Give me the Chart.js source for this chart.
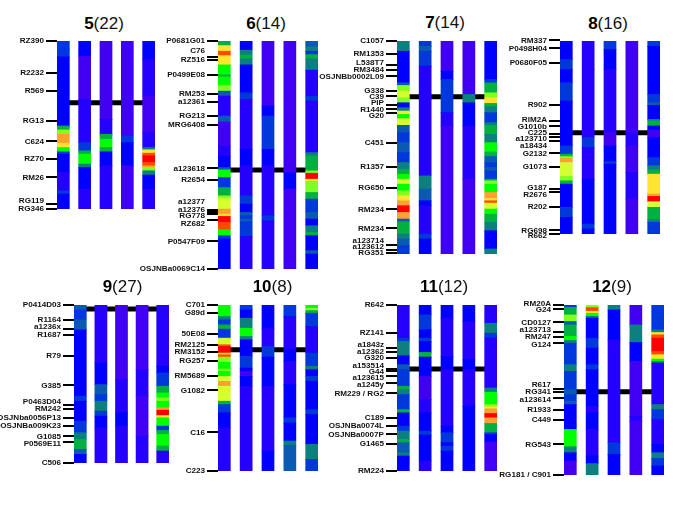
<!DOCTYPE html>
<html>
<head>
<meta charset="utf-8">
<title>QTL heat map per chromosome</title>
<script src="https://cdn.jsdelivr.net/npm/chart.js@4"></script>
<style>
    html, body { margin: 0; padding: 0; background: #fff; }
    #page { position: relative; width: 685px; height: 513px; overflow: hidden; }
    #page canvas { position: absolute; }
    .titre { position: absolute; transform: translateX(-50%); font: 17px "Liberation Sans", Arial, sans-serif; line-height: 20px; color: #111; white-space: nowrap; }
    .titre b { color: #000; }
</style>
</head>
<body>
<div id="page"></div>
<script>
// Chromosomes and number of QTL shown in each title
const chromosomes = [5, 6, 7, 8, 9, 10, 11, 12];
const qtlCounts = [22, 14, 14, 16, 27, 8, 12, 9];

// Position of the black band on each map
const bandPositions = [310, 512, 292, 400, 117, 240, 298, 366];

// Map extent of each chromosome (start, end)
const mapStarts = [124, 124, 124, 124, 105, 105, 105, 105];
const mapEnds = [630, 810, 765, 705, 581, 605, 605, 617];

// Markers: name, position on the map, position of the printed name
const names5 = ['RZ390', 'R2232', 'R569', 'RG13', 'C624', 'RZ70', 'RM26', 'RG119', 'RG346'];
const markers5 = [124, 220, 274, 365, 426, 478, 535, 614, 629];
const nameAt5 = [122, 219, 274, 364, 426, 478, 535, 604, 628];

const names6 = ['P0681G01', 'C76', 'RZ516', 'P0499E08', 'RM253', 'a12361', 'RG213', 'MRG6408', 'a123618', 'R2654', 'a12377', 'a12376', 'RG778', 'RZ682', 'P0547F09', 'OSJNBa0069C14'];
const markers6 = [123, 172, 182, 225, 283, 308, 349, 377, 507, 542, 632, 638, 646, 664, 727, 809];
const nameAt6 = [122, 154, 179, 225, 283, 308, 349, 377, 507, 542, 609, 631, 650, 673, 727, 808];

const names7 = ['C1057', 'RM1353', 'L538T7', 'RM3484', 'OSJNBb0002L09', 'G338', 'C39', 'PIP', 'R1440', 'G20', 'C451', 'R1357', 'RG650', 'RM234', 'RM234', 'a123714', 'a123612', 'RG351'];
const markers7 = [123, 162, 195, 211, 229, 274, 291, 316, 330, 341, 430, 503, 566, 630, 687, 737, 752, 762];
const nameAt7 = [122, 162, 191, 211, 232, 273, 291, 311, 331, 348, 430, 503, 566, 631, 688, 725, 743, 761];

const names8 = ['RM337', 'P0498H04', 'P0680F05', 'R902', 'RIM2A', 'G1010b', 'C225', 'a123710', 'a18434', 'G2132', 'G1073', 'G187', 'R2676', 'R202', 'RG698', 'R662'];
const markers8 = [122, 146, 190, 317, 365, 381, 403, 413, 424, 462, 504, 569, 578, 623, 694, 705];
const nameAt8 = [122, 146, 190, 317, 360, 381, 400, 419, 438, 462, 504, 566, 587, 623, 694, 711];

const names9 = ['P0414D03', 'R1164', 'a1236x', 'R1687', 'R79', 'G385', 'P0463D04', 'RM242', 'OSJNba0056P13', 'OSJNBa009K23', 'G1085', 'P0569E11', 'C506'];
const markers9 = [105, 149, 177, 194, 258, 347, 406, 419, 444, 470, 501, 517, 581];
const nameAt9 = [103, 148, 172, 194, 258, 347, 398, 419, 444, 470, 501, 524, 581];

const names10 = ['C701', 'G89d', '50E08', 'RM2125', 'RM3152', 'RG257', 'RM5689', 'G1082', 'C16', 'C223'];
const markers10 = [105, 129, 192, 226, 246, 274, 318, 362, 489, 605];
const nameAt10 = [105, 129, 192, 226, 246, 274, 318, 362, 489, 605];

const names11 = ['R642', 'RZ141', 'a1843z', 'a12362', 'G320', 'a153514', 'G44', 'a123615', 'a1245y', 'RM229 / RG2', 'C189', 'OSJNBa0074L', 'OSJNBa0007P', 'G1465', 'RM224'];
const markers11 = [105, 190, 234, 246, 265, 298, 304, 318, 340, 371, 446, 469, 495, 524, 605];
const nameAt11 = [105, 190, 226, 246, 265, 287, 305, 325, 344, 371, 446, 469, 495, 524, 605];

const names12 = ['RM20A', 'G24', 'CD0127', 'a123713', 'RM247', 'G124', 'R617', 'RG341', 'a123614', 'R1933', 'C449', 'RG543', 'RG181 / C901'];
const markers12 = [105, 118, 157, 185, 201, 220, 358, 367, 385, 420, 452, 525, 617];
const nameAt12 = [101, 120, 157, 181, 201, 224, 346, 367, 389, 420, 452, 525, 617];

// Heat levels per track, as [end of segment, level] read from top to bottom
const heat5 = [
    [[148, 3], [172, 3], [380, 2], [392, 6], [405, 8], [415, 11], [432, 11], [445, 10], [458, 7], [465, 3], [520, 2], [575, 1], [585, 3], [630, 2]],
    [[170, 2], [300, 0], [430, 1], [455, 3], [465, 6], [495, 7], [505, 5], [570, 2], [630, 1]],
    [[360, 0], [405, 1], [420, 6], [445, 7], [458, 6], [500, 2], [630, 1]],
    [[410, 0], [430, 3], [500, 2], [630, 0]],
    [[180, 2], [290, 1], [400, 0], [445, 1], [452, 5], [462, 10], [470, 12], [490, 13], [500, 12], [505, 11], [515, 8], [528, 5], [570, 2], [630, 1]]
];
const heat6 = [
    [[138, 6], [155, 10], [168, 12], [196, 10], [226, 7], [232, 6], [258, 7], [275, 8], [290, 4], [350, 1], [368, 4], [440, 0], [470, 1], [505, 2], [512, 4], [535, 7], [565, 3], [590, 6], [598, 8], [630, 9], [645, 11], [652, 10], [670, 13], [692, 12], [710, 7], [720, 3], [810, 2]],
    [[152, 2], [166, 5], [178, 6], [196, 5], [280, 2], [300, 3], [450, 1], [500, 2], [590, 1], [615, 3], [640, 2], [650, 4], [660, 3], [668, 4], [712, 3], [810, 1]],
    [[320, 0], [350, 2], [450, 3], [500, 2], [650, 1], [665, 3], [810, 1]],
    [[520, 0], [570, 2], [810, 0]],
    [[142, 4], [155, 5], [165, 3], [178, 6], [212, 5], [290, 1], [305, 3], [460, 1], [470, 5], [515, 6], [522, 8], [540, 13], [545, 10], [580, 8], [600, 6], [640, 3], [660, 4], [680, 2], [700, 5], [710, 6], [755, 2], [765, 4], [810, 2]]
];
const heat7 = [
    [[155, 5], [250, 2], [258, 4], [275, 8], [295, 9], [310, 8], [325, 2], [335, 5], [345, 10], [358, 7], [378, 9], [400, 4], [430, 3], [460, 4], [490, 3], [510, 5], [525, 6], [540, 7], [555, 9], [575, 7], [590, 8], [605, 10], [620, 11], [640, 13], [660, 11], [668, 4], [705, 6], [720, 5], [740, 4], [765, 3]],
    [[140, 3], [155, 4], [200, 3], [530, 1], [570, 5], [605, 4], [620, 2], [705, 1], [720, 3], [765, 2]],
    [[215, 0], [240, 2], [340, 3], [380, 1], [765, 0]],
    [[285, 0], [310, 5], [380, 2], [540, 1], [765, 0]],
    [[240, 2], [250, 3], [280, 6], [295, 8], [312, 10], [322, 6], [340, 5], [370, 3], [378, 5], [405, 6], [430, 5], [458, 7], [472, 6], [490, 4], [505, 3], [515, 4], [540, 3], [545, 6], [555, 8], [580, 7], [598, 11], [605, 10], [612, 12], [630, 9], [645, 7], [670, 6], [695, 5], [750, 2], [765, 5]]
];
const heat8 = [
    [[180, 2], [210, 3], [250, 2], [305, 3], [440, 2], [465, 3], [472, 6], [478, 8], [490, 11], [532, 9], [545, 8], [555, 6], [625, 2], [655, 3], [705, 2]],
    [[210, 1], [415, 1], [445, 3], [540, 1], [675, 2], [690, 3], [705, 2]],
    [[150, 3], [210, 2], [400, 1], [440, 0], [487, 2], [495, 3], [705, 2]],
    [[400, 0], [440, 1], [520, 0], [600, 1], [705, 0]],
    [[140, 3], [285, 2], [310, 3], [318, 4], [360, 2], [365, 5], [380, 6], [392, 2], [415, 0], [475, 2], [500, 3], [512, 5], [525, 6], [585, 10], [592, 11], [608, 13], [625, 9], [662, 6], [670, 5], [705, 3]]
];
const heat9 = [
    [[120, 4], [150, 3], [180, 4], [380, 2], [395, 3], [455, 2], [490, 3], [510, 5], [540, 6], [555, 4], [581, 2]],
    [[280, 1], [345, 2], [375, 4], [395, 3], [425, 5], [440, 3], [475, 2], [581, 1]],
    [[330, 0], [430, 1], [470, 2], [581, 1]],
    [[300, 0], [380, 1], [500, 0], [581, 1]],
    [[290, 1], [310, 2], [350, 3], [370, 6], [385, 7], [395, 8], [415, 7], [422, 11], [438, 13], [445, 10], [470, 7], [483, 3], [495, 6], [530, 7], [545, 6], [581, 1]]
];
const heat10 = [
    [[140, 7], [150, 5], [165, 3], [178, 6], [205, 3], [225, 9], [230, 12], [250, 13], [255, 10], [262, 12], [278, 8], [298, 7], [305, 8], [320, 7], [335, 9], [350, 11], [395, 9], [405, 6], [430, 3], [475, 2], [605, 1]],
    [[120, 3], [145, 2], [175, 5], [200, 7], [210, 5], [260, 2], [295, 3], [305, 2], [320, 0], [350, 2], [605, 1]],
    [[175, 2], [230, 1], [262, 3], [350, 2], [545, 1], [605, 2]],
    [[140, 3], [240, 1], [275, 2], [345, 1], [445, 2], [460, 3], [515, 2], [528, 5], [605, 4]],
    [[115, 7], [122, 8], [130, 6], [170, 3], [250, 1], [290, 3], [300, 5], [320, 2], [335, 3], [420, 2], [435, 3], [525, 2], [570, 5], [605, 3]]
];
const heat11 = [
    [[205, 1], [215, 3], [258, 5], [285, 2], [300, 4], [350, 3], [360, 6], [375, 5], [420, 3], [430, 6], [470, 2], [485, 3], [510, 5], [520, 6], [550, 4], [560, 5], [605, 2]],
    [[135, 2], [180, 3], [205, 2], [215, 3], [248, 2], [262, 6], [320, 2], [390, 0], [430, 1], [485, 2], [497, 3], [575, 2], [605, 1]],
    [[145, 2], [260, 1], [300, 2], [470, 1], [490, 2], [520, 3], [530, 2], [545, 3], [605, 2]],
    [[155, 2], [270, 1], [300, 2], [410, 1], [605, 2]],
    [[160, 1], [190, 5], [205, 3], [355, 1], [368, 5], [405, 7], [412, 8], [418, 10], [432, 11], [445, 13], [462, 11], [490, 6], [495, 3], [518, 2], [605, 0]]
];
const heat12 = [
    [[112, 3], [135, 6], [155, 8], [165, 4], [200, 6], [212, 7], [220, 5], [285, 3], [305, 5], [360, 3], [375, 4], [395, 3], [405, 4], [480, 2], [532, 7], [550, 5], [575, 2], [617, 0]],
    [[113, 8], [124, 12], [130, 10], [140, 7], [145, 4], [205, 2], [235, 3], [285, 2], [300, 3], [410, 2], [430, 1], [480, 2], [560, 1], [583, 2], [617, 5]],
    [[120, 5], [210, 2], [520, 1], [555, 3], [617, 2]],
    [[165, 0], [218, 5], [275, 2], [440, 0], [455, 1], [617, 0]],
    [[180, 3], [188, 5], [195, 10], [205, 12], [245, 13], [255, 12], [268, 10], [275, 7], [280, 5], [405, 1], [420, 5], [450, 3], [525, 1], [550, 2], [567, 5], [590, 3], [617, 2]]
];

// Colour of each heat level
const levelColors = ['#4000f4', '#2400ff', '#0000ff', '#0038dc', '#0a5ab4', '#0c8080', '#00b040', '#00ff00', '#80ff20', '#d4ff30', '#ffe430', '#ffa030', '#ff4a00', '#ff0000'];

// Where the panels sit in the page: left edge of first track, top of track, track spacing, title centre
const trackLefts = [56.7, 218.3, 397, 560.3, 74, 218.3, 397, 564];
const trackTops = [41.3, 41.3, 41.3, 41.3, 305, 305, 305, 305];
const trackSteps = [21.4, 22, 22, 22, 20.8, 22, 22, 22];
const titleCentres = [104, 266, 445, 608, 122.5, 272.5, 444, 612];
const titleTops = [14, 14, 13, 14, 277, 277, 277, 277];

const allNames = [names5, names6, names7, names8, names9, names10, names11, names12];
const allMarkers = [markers5, markers6, markers7, markers8, markers9, markers10, markers11, markers12];
const allNameAt = [nameAt5, nameAt6, nameAt7, nameAt8, nameAt9, nameAt10, nameAt11, nameAt12];
const allHeat = [heat5, heat6, heat7, heat8, heat9, heat10, heat11, heat12];

const TRACK_WIDTH = 12.7;
const TICK_LENGTH = 11;
const AXIS_WIDTH = 90;
const PADDING = 10;

// Prints the marker names next to the ticks, they do not always line up with them
const markerNames = {
    id: 'markerNames',
    afterDraw(chart, args, opts) {
        const ctx = chart.ctx;
        const y = chart.scales.y;
        ctx.save();
        ctx.font = 'bold 8.1px "Liberation Sans", Arial, sans-serif';
        ctx.fillStyle = '#111';
        ctx.textAlign = 'right';
        ctx.textBaseline = 'middle';
        opts.names.forEach((name, i) => {
            ctx.fillText(name, chart.chartArea.left - TICK_LENGTH - 2, y.getPixelForValue(opts.nameAt[i]));
        });
        ctx.restore();
    }
};

function drawPanel(p) {
    const page = document.getElementById('page');

    const titre = document.createElement('div');
    titre.className = 'titre';
    titre.style.left = titleCentres[p] + 'px';
    titre.style.top = titleTops[p] + 'px';
    titre.innerHTML = '<b>' + chromosomes[p] + '</b>(' + qtlCounts[p] + ')';
    page.appendChild(titre);

    // One floating bar per segment
    const segments = [];
    allHeat[p].forEach((track, t) => {
        let start = mapStarts[p];
        track.forEach(([end, level]) => {
            segments.push({ x: t + 1, y: [start, end], level: level });
            start = end;
        });
    });

    const step = trackSteps[p];
    const halfTrack = TRACK_WIDTH / 2 / step;
    const plotWidth = 4 * step + TRACK_WIDTH;
    const plotHeight = (mapEnds[p] - mapStarts[p]) / 3;

    const canvas = document.createElement('canvas');
    canvas.width = AXIS_WIDTH + plotWidth;
    canvas.height = plotHeight + 2 * PADDING;
    canvas.style.left = (trackLefts[p] - AXIS_WIDTH) + 'px';
    canvas.style.top = (trackTops[p] - PADDING) + 'px';
    page.appendChild(canvas);

    new Chart(canvas.getContext('2d'), {
        data: {
            datasets: [{
                type: 'bar',
                order: 1,
                data: segments,
                barThickness: TRACK_WIDTH - 0.8,
                borderWidth: 0,
                inflateAmount: 0.4,
                backgroundColor: ctx => levelColors[ctx.raw ? ctx.raw.level : 0]
            }, {
                type: 'line',
                order: 2,
                data: [{ x: 1, y: bandPositions[p] }, { x: 5, y: bandPositions[p] }],
                borderColor: '#000',
                borderWidth: 5,
                pointRadius: 0
            }]
        },
        options: {
            responsive: false,
            animation: false,
            devicePixelRatio: 1,
            layout: { padding: { top: PADDING, bottom: PADDING, left: 0, right: 0 } },
            plugins: {
                legend: { display: false },
                tooltip: { enabled: false },
                markerNames: { names: allNames[p], nameAt: allNameAt[p] }
            },
            scales: {
                x: {
                    type: 'linear',
                    display: false,
                    offset: false,
                    min: 1 - halfTrack,
                    max: 5 + halfTrack
                },
                y: {
                    type: 'linear',
                    reverse: true,
                    min: mapStarts[p],
                    max: mapEnds[p],
                    afterFit: scale => { scale.width = AXIS_WIDTH; },
                    afterBuildTicks: scale => { scale.ticks = allMarkers[p].map(v => ({ value: v })); },
                    ticks: { display: false, autoSkip: false },
                    border: { display: false },
                    grid: { drawOnChartArea: false, drawTicks: true, tickLength: TICK_LENGTH, color: '#000', lineWidth: 2 }
                }
            }
        },
        plugins: [markerNames]
    });
}

chromosomes.forEach((c, p) => drawPanel(p));
</script>
</body>
</html>
